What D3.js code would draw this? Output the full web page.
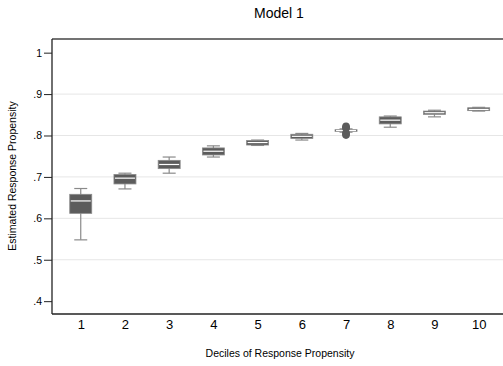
<!DOCTYPE html>
<html>
<head>
<meta charset="utf-8">
<script src="https://cdn.jsdelivr.net/npm/d3@7"></script>
<style>
  body { margin: 0; background: #fff; }
  text { font-family: "Liberation Sans", Arial, sans-serif; fill: #000; }
</style>
</head>
<body>
<svg id="chart" width="503" height="366"></svg>
<script>
// values
const deciles = [1, 2, 3, 4, 5, 6, 7, 8, 9, 10];
const whiskLo = [0.548, 0.671, 0.709, 0.748, 0.776, 0.789, 0.808, 0.820, 0.845, 0.859];
const q1      = [0.612, 0.683, 0.720, 0.753, 0.777, 0.793, 0.810, 0.828, 0.851, 0.860];
const median  = [0.642, 0.697, 0.730, 0.762, 0.783, 0.798, 0.812, 0.837, 0.855, 0.863];
const q3      = [0.658, 0.706, 0.740, 0.770, 0.788, 0.803, 0.814, 0.845, 0.859, 0.867];
const whiskHi = [0.672, 0.709, 0.748, 0.775, 0.789, 0.805, 0.816, 0.847, 0.861, 0.868];
const outlierDecile = [7, 7, 7, 7, 7, 7];
const outlierValue  = [0.801, 0.804, 0.806, 0.818, 0.820, 0.822];
const yTicks = [0.4, 0.5, 0.6, 0.7, 0.8, 0.9, 1];
const yGrid = [0.5, 0.6, 0.7, 0.8, 0.9];

const svg = d3.select('#chart');
const plotL = 52, plotR = 503, plotT = 39, plotB = 314;

const x = d3.scaleLinear().domain([0.35, 10.55]).range([plotL, plotR]);
const y = d3.scaleLinear().domain([0.369, 1.033]).range([plotB, plotT]);

const fmt = v => v === 1 ? '1' : d3.format('.1f')(v).replace(/^0/, '');

// gridlines
svg.append('g')
    .selectAll('line')
    .data(yGrid)
    .enter()
    .append('line')
    .attr('x1', plotL).attr('x2', plotR)
    .attr('y1', d => y(d)).attr('y2', d => y(d))
    .attr('stroke', '#e6e6e6')
    .attr('stroke-width', 1);

// frame top line
svg.append('line')
    .attr('x1', plotL).attr('x2', plotR)
    .attr('y1', plotT).attr('y2', plotT)
    .attr('stroke', '#444').attr('stroke-width', 1.3);

// y axis
const yAxis = svg.append('g')
    .attr('transform', `translate(${plotL},0)`)
    .call(d3.axisLeft(y).tickValues(yTicks).tickFormat(fmt).tickSize(8).tickPadding(2));
yAxis.select('.domain').attr('d', `M0,${plotT}V${plotB}`).attr('stroke', '#222').attr('stroke-width', 1.3);
yAxis.selectAll('.tick line').attr('stroke', '#222');
yAxis.selectAll('.tick text').style('font-size', '10.5px').style('font-family', 'Liberation Sans, Arial, sans-serif');

// x axis
const xAxis = svg.append('g')
    .attr('transform', `translate(0,${plotB})`)
    .call(d3.axisBottom(x).tickValues(deciles).tickFormat(d3.format('d')).tickSize(0).tickPadding(6));
xAxis.select('.domain').attr('d', `M${plotL},0H${plotR}`).attr('stroke', '#222').attr('stroke-width', 1.3);
xAxis.selectAll('.tick text').style('font-size', '13px').style('font-family', 'Liberation Sans, Arial, sans-serif');

// boxes
const boxW = 22, capW = 13;
const g = svg.append('g');
deciles.forEach((d, i) => {
    const cx = x(d);
    g.append('line')
        .attr('x1', cx).attr('x2', cx)
        .attr('y1', y(whiskLo[i])).attr('y2', y(whiskHi[i]))
        .attr('stroke', '#8a8a8a').attr('stroke-width', 1.2);
    [whiskLo[i], whiskHi[i]].forEach(v => {
        g.append('line')
            .attr('x1', cx - capW / 2).attr('x2', cx + capW / 2)
            .attr('y1', y(v)).attr('y2', y(v))
            .attr('stroke', '#8a8a8a').attr('stroke-width', 1.2);
    });
    g.append('rect')
        .attr('x', cx - boxW / 2)
        .attr('y', y(q3[i]))
        .attr('width', boxW)
        .attr('height', Math.max(1, y(q1[i]) - y(q3[i])))
        .attr('fill', '#5c5c5c')
        .attr('stroke', '#8a8a8a')
        .attr('stroke-width', 0.8);
    g.append('line')
        .attr('x1', cx - boxW / 2 + 1).attr('x2', cx + boxW / 2 - 1)
        .attr('y1', y(median[i])).attr('y2', y(median[i]))
        .attr('stroke', '#fff').attr('stroke-width', 1.2);
});

// outliers
svg.append('g')
    .selectAll('circle')
    .data(outlierValue)
    .enter()
    .append('circle')
    .attr('cx', (d, i) => x(outlierDecile[i]))
    .attr('cy', d => y(d))
    .attr('r', 3.8)
    .attr('fill', '#5c5c5c');

// titles
svg.append('text')
    .attr('x', 279).attr('y', 18)
    .attr('text-anchor', 'middle')
    .style('font-size', '14px')
    .text('Model 1');

svg.append('text')
    .attr('x', 280).attr('y', 357)
    .attr('text-anchor', 'middle')
    .style('font-size', '10.5px')
    .text('Deciles of Response Propensity');

svg.append('text')
    .attr('transform', 'translate(16,176) rotate(-90)')
    .attr('text-anchor', 'middle')
    .style('font-size', '10.5px')
    .text('Estimated Response Propensity');
</script>
</body>
</html>
